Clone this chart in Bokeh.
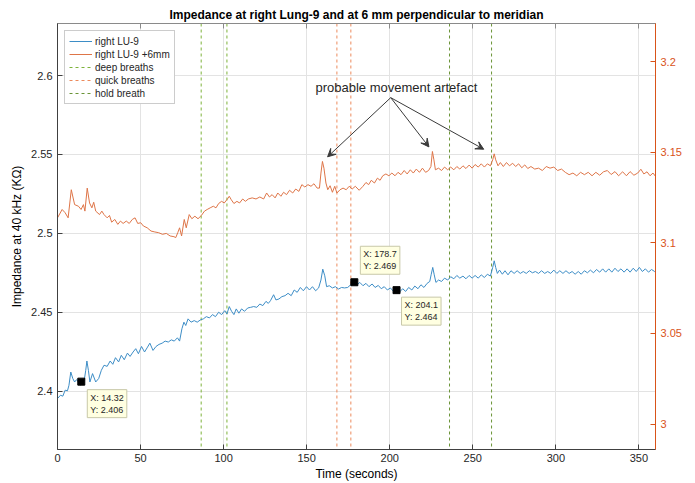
from bokeh.plotting import figure
from bokeh.models import (Range1d, LinearAxis, FixedTicker, CustomJSTickFormatter, Span,
                          Legend, LegendItem, Label, Arrow, VeeHead)
from bokeh.embed import file_html
from bokeh.resources import INLINE

# ---------------- data ----------------
blue_t = [0, 1.8, 3.2, 4.6, 6.0, 6.9, 8.0, 9.2, 10.3, 11.5, 12.6, 13.8, 14.32, 16.1, 17.0, 17.7, 18.6, 19.5,
          21.1, 23.0, 24.8, 26.4, 28.0, 29.9, 31.7, 33.3, 34.9, 36.8, 38.4, 40.2, 42.1, 43.7, 45.5, 47.1,
          48.7, 50.6, 52.4, 54.2, 55.6, 57.5, 59.3, 61.1, 63.0, 64.8, 66.7, 68.5, 70.3, 72.2, 73.5, 74.9,
          76.1, 77.2, 78.6, 80.4, 82.3, 84.1, 86.0, 87.8, 89.6, 91.5, 93.3, 95.1, 97.0, 98.8, 100.7, 102.0,
          103.4, 104.8, 106.2, 107.6, 109.2, 110.8, 112.6, 114.5, 116.3, 118.1, 120.0, 121.8, 123.6, 125.5,
          126.9, 128.2, 130.1, 131.5, 133.3, 135.1, 137.0, 138.8, 140.7, 142.5, 144.3, 146.2, 148.0, 149.9,
          151.7, 153.5, 155.4, 157.2, 158.6, 159.7, 160.9, 162.0, 163.6, 165.5, 167.3, 169.2, 171.0, 172.8,
          174.7, 176.5, 178.7, 180.4, 182.0, 183.9, 185.7, 187.5, 189.4, 191.2, 193.1, 194.9, 196.7, 198.6,
          200.4, 202.3, 204.1, 205.9, 207.8, 209.6, 211.4, 213.3, 215.1, 217.0, 218.8, 220.6, 222.5, 224.1,
          225.0, 225.9, 226.8, 227.8, 229.4, 231.2, 233.0, 234.9, 236.7, 238.6, 240.4, 242.2, 244.1, 245.9,
          247.8, 249.6, 251.4, 253.3, 255.1, 257.0, 258.8, 260.6, 262.0, 262.9, 263.8, 264.8, 266.1, 267.8,
          269.4, 271.2, 273.0, 274.9, 276.7, 278.6, 280.4, 282.2, 284.1, 285.9, 287.7, 289.6, 291.4, 293.3,
          295.1, 296.9, 298.8, 300.6, 302.4, 304.3, 306.1, 308.0, 309.8, 311.6, 313.5, 315.3, 317.2, 319.0,
          320.8, 322.7, 324.5, 326.4, 328.2, 330.0, 331.9, 333.7, 335.6, 337.4, 339.2, 341.1, 342.9, 344.7,
          346.6, 348.4, 350.3, 352.1, 353.9, 355.8, 357.6, 359.5, 360.0]
blue_v = [2.3953, 2.3974, 2.3968, 2.4006, 2.4002, 2.4037, 2.4121, 2.4080, 2.4058, 2.4073, 2.4058, 2.4037,
          2.4060, 2.4069, 2.4132, 2.4191, 2.4132, 2.4058, 2.4111, 2.4058, 2.4080, 2.4132, 2.4164, 2.4157,
          2.4191, 2.4170, 2.4212, 2.4185, 2.4227, 2.4199, 2.4241, 2.4220, 2.4248, 2.4269, 2.4237, 2.4283,
          2.4248, 2.4279, 2.4304, 2.4258, 2.4283, 2.4296, 2.4304, 2.4317, 2.4311, 2.4325, 2.4317, 2.4338,
          2.4317, 2.4395, 2.4437, 2.4416, 2.4458, 2.4437, 2.4447, 2.4437, 2.4451, 2.4458, 2.4472, 2.4464,
          2.4485, 2.4472, 2.4500, 2.4485, 2.4510, 2.4489, 2.4536, 2.4506, 2.4485, 2.4521, 2.4494, 2.4521,
          2.4506, 2.4527, 2.4531, 2.4536, 2.4531, 2.4552, 2.4542, 2.4569, 2.4556, 2.4573, 2.4611, 2.4578,
          2.4584, 2.4599, 2.4605, 2.4620, 2.4605, 2.4641, 2.4626, 2.4657, 2.4636, 2.4662, 2.4641, 2.4662,
          2.4636, 2.4654, 2.4704, 2.4773, 2.4731, 2.4662, 2.4668, 2.4654, 2.4662, 2.4647, 2.4657, 2.4654,
          2.4657, 2.4674, 2.4690, 2.4674, 2.4689, 2.4668, 2.4683, 2.4662, 2.4679, 2.4657, 2.4670, 2.4649,
          2.4662, 2.4641, 2.4654, 2.4632, 2.4640, 2.4628, 2.4649, 2.4632, 2.4657, 2.4641, 2.4666, 2.4649,
          2.4674, 2.4657, 2.4683, 2.4695, 2.4741, 2.4784, 2.4737, 2.4689, 2.4704, 2.4695, 2.4716, 2.4704,
          2.4725, 2.4712, 2.4733, 2.4716, 2.4729, 2.4712, 2.4733, 2.4716, 2.4733, 2.4716, 2.4737, 2.4720,
          2.4741, 2.4729, 2.4784, 2.4826, 2.4784, 2.4746, 2.4767, 2.4741, 2.4763, 2.4737, 2.4763, 2.4746,
          2.4763, 2.4746, 2.4758, 2.4746, 2.4763, 2.4750, 2.4758, 2.4746, 2.4763, 2.4746, 2.4758, 2.4746,
          2.4767, 2.4746, 2.4763, 2.4746, 2.4763, 2.4746, 2.4758, 2.4741, 2.4758, 2.4741, 2.4763, 2.4750,
          2.4767, 2.4750, 2.4771, 2.4754, 2.4775, 2.4754, 2.4775, 2.4754, 2.4779, 2.4758, 2.4775, 2.4754,
          2.4775, 2.4754, 2.4779, 2.4758, 2.4784, 2.4758, 2.4775, 2.4754, 2.4771, 2.4758, 2.4763]

orange_t = [0, 2.8, 4.6, 6.4, 8.3, 10.3, 12.6, 14.2, 15.6, 16.5, 17.9, 19.3, 20.7, 21.8, 23.0, 25.3, 26.7,
            28.0, 29.9, 31.3, 32.6, 34.5, 36.3, 37.9, 39.5, 41.4, 43.2, 45.0, 46.7, 48.3, 50.1, 51.7, 54.0,
            56.3, 58.6, 60.9, 63.2, 65.5, 67.8, 70.1, 71.2, 72.4, 73.5, 74.7, 76.3, 77.5, 79.3, 80.9, 82.7,
            84.6, 86.6, 88.5, 90.1, 91.9, 93.8, 95.4, 97.0, 98.8, 100.4, 102.3, 103.4, 104.6, 106.2, 108.0,
            109.6, 111.5, 113.1, 114.9, 117.2, 119.5, 121.8, 124.1, 125.9, 127.6, 129.2, 131.0, 132.6, 134.5,
            136.1, 137.9, 139.7, 141.6, 143.4, 145.3, 147.1, 148.9, 150.8, 152.6, 154.4, 156.3, 157.7, 158.6,
            159.5, 160.4, 161.6, 162.7, 164.1, 165.5, 166.9, 168.2, 170.1, 171.9, 173.8, 175.6, 177.4, 179.3,
            181.6, 183.9, 185.7, 187.3, 188.9, 190.8, 192.6, 194.2, 195.8, 197.7, 199.5, 201.3, 203.2, 205.0,
            206.8, 208.7, 210.5, 212.4, 214.2, 216.0, 217.9, 219.7, 221.6, 223.4, 224.8, 225.7, 226.6, 227.5,
            229.4, 231.2, 233.0, 234.9, 236.7, 238.6, 240.4, 242.2, 244.1, 245.9, 247.8, 249.6, 251.4, 253.3,
            255.1, 257.0, 258.8, 260.6, 262.0, 262.9, 263.8, 265.2, 266.6, 268.4, 270.3, 272.1, 274.0, 275.8,
            277.6, 279.5, 281.3, 283.1, 285.0, 287.3, 289.6, 291.9, 294.2, 296.5, 298.8, 301.1, 303.4, 305.7,
            308.0, 310.3, 312.6, 314.9, 317.2, 319.5, 321.8, 324.1, 326.4, 328.7, 331.0, 333.3, 335.6, 337.8,
            340.2, 342.5, 344.7, 347.0, 349.3, 351.2, 353.0, 354.9, 356.7, 358.5, 360.0]
orange_v = [3.1138, 3.1184, 3.1166, 3.1138, 3.1293, 3.1211, 3.1202, 3.1184, 3.1211, 3.1175, 3.1302, 3.1220,
            3.1193, 3.1224, 3.1175, 3.1156, 3.1175, 3.1156, 3.1138, 3.1151, 3.1114, 3.1129, 3.1102, 3.1120,
            3.1107, 3.1120, 3.1107, 3.1129, 3.1138, 3.1107, 3.1111, 3.1093, 3.1083, 3.1065, 3.1060, 3.1056,
            3.1047, 3.1052, 3.1038, 3.1034, 3.1029, 3.1056, 3.1083, 3.1038, 3.1129, 3.1083, 3.1156, 3.1133,
            3.1147, 3.1133, 3.1151, 3.1175, 3.1184, 3.1193, 3.1202, 3.1193, 3.1217, 3.1229, 3.1220, 3.1242,
            3.1257, 3.1238, 3.1217, 3.1229, 3.1220, 3.1242, 3.1229, 3.1242, 3.1248, 3.1242, 3.1253, 3.1242,
            3.1275, 3.1253, 3.1266, 3.1248, 3.1275, 3.1257, 3.1279, 3.1266, 3.1290, 3.1275, 3.1297, 3.1284,
            3.1321, 3.1308, 3.1321, 3.1312, 3.1326, 3.1302, 3.1302, 3.1385, 3.1449, 3.1412, 3.1330, 3.1293,
            3.1315, 3.1279, 3.1312, 3.1275, 3.1293, 3.1302, 3.1293, 3.1312, 3.1297, 3.1312, 3.1290, 3.1312,
            3.1333, 3.1321, 3.1345, 3.1330, 3.1357, 3.1345, 3.1370, 3.1380, 3.1370, 3.1385, 3.1370, 3.1389,
            3.1376, 3.1399, 3.1380, 3.1403, 3.1385, 3.1407, 3.1389, 3.1412, 3.1389, 3.1399, 3.1421, 3.1504,
            3.1458, 3.1403, 3.1412, 3.1399, 3.1418, 3.1403, 3.1418, 3.1403, 3.1421, 3.1407, 3.1425, 3.1410,
            3.1429, 3.1412, 3.1432, 3.1418, 3.1436, 3.1418, 3.1436, 3.1425, 3.1458, 3.1491, 3.1458, 3.1425,
            3.1443, 3.1421, 3.1443, 3.1425, 3.1439, 3.1421, 3.1436, 3.1414, 3.1430, 3.1410, 3.1421, 3.1407,
            3.1412, 3.1399, 3.1421, 3.1412, 3.1418, 3.1399, 3.1407, 3.1389, 3.1376, 3.1385, 3.1370, 3.1389,
            3.1376, 3.1389, 3.1370, 3.1389, 3.1373, 3.1392, 3.1399, 3.1377, 3.1393, 3.1370, 3.1392, 3.1370,
            3.1393, 3.1373, 3.1385, 3.1406, 3.1380, 3.1392, 3.1370, 3.1385, 3.1367]

deep_breaths = [86.5, 102.0]
quick_breaths = [168.2, 176.6]
hold_breath = [236.0, 261.3]

tip_x = [14.32, 178.7, 204.1]
tip_y = [2.406, 2.469, 2.464]
tip_text = ["X: 14.32\nY: 2.406", "X: 178.7\nY: 2.469", "X: 204.1\nY: 2.464"]

note_text = "probable movement artefact"
note_x, note_y = 204.0, 2.5925
arrow_from = (200.6, 2.586)
arrow_to_x = [162.6, 223.6, 256.6]
arrow_to_y = [2.5485, 2.5548, 2.5533]

x_ticks = [0, 50, 100, 150, 200, 250, 300, 350]
left_ticks = [2.4, 2.45, 2.5, 2.55, 2.6]
right_ticks = [3.0, 3.05, 3.1, 3.15, 3.2]

# ---------------- style ----------------
FONT = "Liberation Sans"
BLUE = "#3D8DC6"
ORANGE = "#D95319"
ORANGE_LINE = "#DE7548"
QUICK = "#EC8A5C"
GREEN_DEEP = "#7DB23A"
GREEN_HOLD = "#6A9436"
AX = "#404040"
NAN = float("nan")
fmt = CustomJSTickFormatter(code="return String(Math.round(tick*1000)/1000);")

p = figure(width=695, height=483, output_backend="svg", toolbar_location=None,
           x_range=Range1d(0, 360), y_range=Range1d(2.363, 2.633),
           min_border_left=57, min_border_right=40, min_border_top=23, min_border_bottom=32,
           title="Impedance at right Lung-9 and at 6 mm perpendicular to meridian")
p.extra_y_ranges = {"right": Range1d(2.986, 3.221)}

p.title.text_font = FONT
p.title.text_font_size = "12px"
p.title.text_font_style = "bold"
p.title.align = "center"
p.title.text_color = "#000000"
p.title.offset = 0
p.title.standoff = 4

p.outline_line_color = "#8a8a8a"
p.background_fill_color = "white"
p.border_fill_color = "white"

# axes
xa = p.xaxis[0]
xa.ticker = FixedTicker(ticks=x_ticks)
xa.axis_label = "Time (seconds)"
ya = p.yaxis[0]
ya.ticker = FixedTicker(ticks=left_ticks)
ya.formatter = fmt
ya.axis_label = "Impedance at 40 kHz (KΩ)"

ra = LinearAxis(y_range_name="right", ticker=FixedTicker(ticks=right_ticks), formatter=fmt)
p.add_layout(ra, "right")

for ax in [xa, ya, ra]:
    ax.major_tick_in = 5
    ax.major_tick_out = 0
    ax.minor_tick_in = 0
    ax.minor_tick_out = 0
    ax.major_label_text_font = FONT
    ax.major_label_text_font_size = "11px"
    ax.axis_label_text_font = FONT
    ax.axis_label_text_font_size = "12px"
    ax.axis_label_text_font_style = "normal"
    ax.major_label_standoff = 5
    ax.axis_label_standoff = 4
for ax in [xa, ya]:
    ax.axis_line_color = AX
    ax.major_tick_line_color = AX
    ax.major_label_text_color = "#262626"
    ax.axis_label_text_color = "#000000"
xa.major_label_standoff = 4
xa.axis_label_standoff = 2
ra.axis_line_color = ORANGE
ra.major_tick_line_color = ORANGE
ra.major_label_text_color = ORANGE

top = LinearAxis(ticker=FixedTicker(ticks=x_ticks),
                 formatter=CustomJSTickFormatter(code="return '';"))
top.major_tick_in = 5
top.major_tick_out = 0
top.minor_tick_in = 0
top.minor_tick_out = 0
top.major_label_standoff = 0
top.axis_line_color = "#8a8a8a"
top.major_tick_line_color = "#8a8a8a"
p.add_layout(top, "above")

p.xgrid.ticker = FixedTicker(ticks=x_ticks)
p.ygrid.ticker = FixedTicker(ticks=left_ticks)
p.grid.grid_line_color = "#e3e3e3"
p.grid.grid_line_width = 1

# vertical event lines
for xs, col in [(deep_breaths, GREEN_DEEP), (quick_breaths, QUICK), (hold_breath, GREEN_HOLD)]:
    for xv in xs:
        p.add_layout(Span(location=xv, dimension="height", line_color=col,
                          line_dash="3 3", line_width=1, level="underlay"))

# series
r_blue = p.line(blue_t, blue_v, line_color=BLUE, line_width=1)
r_orange = p.line(orange_t, orange_v, line_color=ORANGE_LINE, line_width=1, y_range_name="right")

# legend proxies for the event lines (no visible data)
r_deep = p.line([NAN], [NAN], line_color=GREEN_DEEP, line_dash="3 3", line_width=1)
r_quick = p.line([NAN], [NAN], line_color=QUICK, line_dash="3 3", line_width=1)
r_hold = p.line([NAN], [NAN], line_color=GREEN_HOLD, line_dash="3 3", line_width=1)

legend = Legend(items=[
    LegendItem(label="right LU-9", renderers=[r_blue]),
    LegendItem(label="right LU-9 +6mm", renderers=[r_orange]),
    LegendItem(label="deep breaths", renderers=[r_deep]),
    LegendItem(label="quick breaths", renderers=[r_quick]),
    LegendItem(label="hold breath", renderers=[r_hold]),
], location="top_left")
legend.label_text_font = FONT
legend.label_text_font_size = "10px"
legend.label_text_color = "#262626"
legend.glyph_width = 23
legend.glyph_height = 12
legend.label_height = 12
legend.label_standoff = 3
legend.spacing = 1
legend.padding = 4
legend.margin = 7
legend.border_line_color = "#9a9a9a"
legend.border_line_width = 1
legend.background_fill_color = "white"
legend.background_fill_alpha = 1
p.add_layout(legend, "center")

# data tips
p.scatter(tip_x, tip_y, marker="square", size=7, fill_color="black", line_color="black")
offsets = [(6, -8, "top"), (6, 8, "bottom"), (5, -7, "top")]
for (tx, ty, tt, (dx, dy, base)) in zip(tip_x, tip_y, tip_text, offsets):
    p.add_layout(Label(x=tx, y=ty, x_offset=dx, y_offset=dy, text=tt,
                       text_align="left", text_baseline=base,
                       text_font=FONT, text_font_size="9px", text_color="#262626",
                       background_fill_color="#FFFFE1", background_fill_alpha=1,
                       border_line_color="#c8c8a8", border_line_width=1, padding=3))

# annotation
p.add_layout(Label(x=note_x, y=note_y, text=note_text, text_align="center",
                   text_baseline="middle", text_font=FONT, text_font_size="13px",
                   text_color="#262626"))
for ax_, ay_ in zip(arrow_to_x, arrow_to_y):
    p.add_layout(Arrow(x_start=arrow_from[0], y_start=arrow_from[1], x_end=ax_, y_end=ay_,
                       line_color="#3a3a3a", line_width=1,
                       end=VeeHead(size=8, fill_color="#3a3a3a", line_color="#3a3a3a")))

open("out.html", "w").write(file_html(p, INLINE))
